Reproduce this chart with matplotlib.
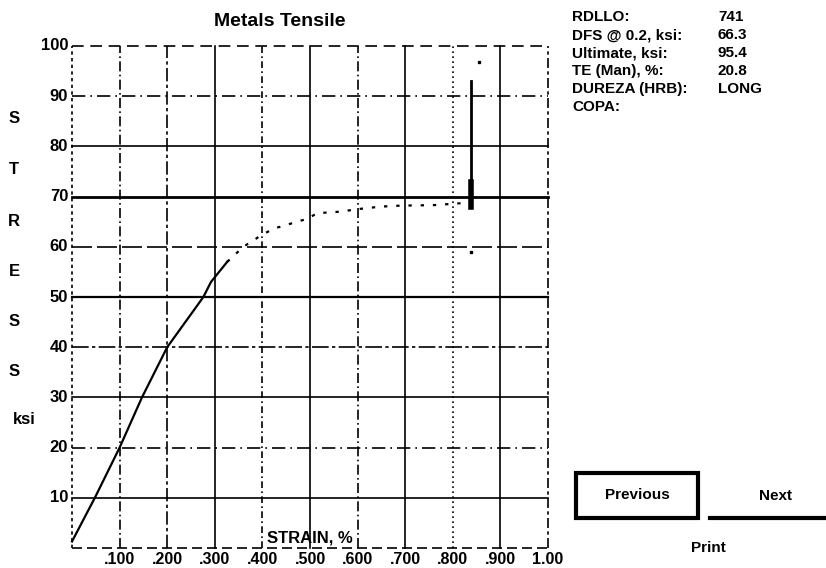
import numpy as np
import matplotlib
matplotlib.use("Agg")
from matplotlib import pyplot as plt
from matplotlib.patches import Rectangle

plt.rcParams['font.family'] = ['Liberation Sans', 'DejaVu Sans']
plt.rcParams['font.weight'] = 'bold'

# stress-strain readings
strain = [0.0, 0.048, 0.100, 0.147, 0.200, 0.276, 0.292, 0.326,
          0.360, 0.396, 0.423, 0.495, 0.515, 0.564, 0.600, 0.648,
          0.690, 0.760, 0.820]
stress = [1.3, 10.0, 20.0, 30.0, 40.0, 50.0, 53.0, 57.0,
          60.0, 62.2, 63.6, 65.6, 66.7, 67.0, 67.5, 68.0,
          68.2, 68.3, 68.7]
n_solid = 8  # first points drawn as a continuous line

break_strain = 0.838
break_low, break_high = 68.0, 93.0
break_thick = 73.0
extra_pts_x = [0.855, 0.838]
extra_pts_y = [96.8, 59.0]

xticks = [0.1, 0.2, 0.3, 0.4, 0.5, 0.6, 0.7, 0.8, 0.9, 1.0]
xtick_labels = ['.100', '.200', '.300', '.400', '.500', '.600', '.700', '.800', '.900', '1.00']
yticks = [10, 20, 30, 40, 50, 60, 70, 80, 90, 100]

info_labels = ['RDLLO:', 'DFS @ 0.2, ksi:', 'Ultimate, ksi:', 'TE (Man), %:', 'DUREZA (HRB):', 'COPA:']
info_values = ['741', '66.3', '95.4', '20.8', 'LONG', '']

W, H = 826, 568
fig = plt.figure(figsize=(W / 100, H / 100), dpi=100)

def fx(px):
    return px / W

def fy(py):
    return 1 - py / H

ax = fig.add_axes([fx(72), fy(548), fx(548) - fx(72), fy(46) - fy(548)])
ax.set_xlim(0, 1)
ax.set_ylim(0, 100)
for s in ax.spines.values():
    s.set_visible(False)
ax.set_xticks([])
ax.set_yticks([])

# grid lines, each with its own pen pattern
hstyles = {0: (0, (6, 3)), 10: '-', 20: (0, (8, 3, 1, 3)), 30: '-', 40: (0, (10, 2, 2, 2)),
           50: '-', 60: (0, (12, 3)), 70: '-', 80: '-', 90: (0, (8, 3, 1, 3)), 100: (0, (7, 4))}
hwidths = {70: 2.0, 50: 1.6}
for yv in [0] + yticks:
    ax.axhline(yv, color='black', lw=hwidths.get(yv, 1.2), ls=hstyles[yv], clip_on=False)
vstyles = [(0, (2, 2)), (0, (6, 2, 1, 2)), (0, (8, 2, 2, 2)), '-', (0, (4, 2, 1, 2)),
           '-', (0, (6, 2, 1, 2)), '-', (0, (1, 2)), '-', (0, (6, 2, 2, 2))]
for xv, st in zip([0.0] + xticks, vstyles):
    ax.axvline(xv, color='black', lw=1.2, ls=st, clip_on=False)

# the test curve
ax.plot(strain[:n_solid], stress[:n_solid], color='black', lw=1.6, clip_on=False)
ax.plot(strain[n_solid - 1:], stress[n_solid - 1:], color='black', lw=1.6,
        ls=(0, (1.5, 4)))
ax.plot([break_strain, break_strain], [break_low, break_high], color='black', lw=2)
ax.plot([break_strain, break_strain], [break_low, break_thick], color='black', lw=4)
ax.plot(extra_pts_x, extra_pts_y, 's', color='black', ms=2)

# axis labels and ticks
for xv, lab in zip(xticks, xtick_labels):
    ax.text(xv, -2.3, lab, ha='center', va='center', fontsize=11.5)
for yv in yticks:
    ax.text(-0.008, yv, str(yv), ha='right', va='center', fontsize=12)
ax.text(0.5, 0.5, 'STRAIN, %', ha='center', va='bottom', fontsize=12)

fig.text(fx(280), fy(22), 'Metals Tensile', ha='center', va='center', fontsize=14)
for ch, py in zip('STRESS', [118, 170, 222, 272, 322, 372]):
    fig.text(fx(14), fy(py), ch, ha='center', va='center', fontsize=12)
fig.text(fx(24), fy(420), 'ksi', ha='center', va='center', fontsize=12)

# test summary panel
for i, (lab, val) in enumerate(zip(info_labels, info_values)):
    yy = fy(17 + 18 * i)
    fig.text(fx(572), yy, lab, ha='left', va='center', fontsize=11)
    fig.text(fx(718), yy, val, ha='left', va='center', fontsize=11)

# buttons
fig.patches.append(Rectangle((fx(576), fy(518)), fx(698) - fx(576), fy(473) - fy(518),
                             transform=fig.transFigure, fill=False, lw=3, ec='black'))
fig.text(fx(637), fy(495), 'Previous', ha='center', va='center', fontsize=11)
fig.text(fx(775), fy(496), 'Next', ha='center', va='center', fontsize=11)
fig.add_artist(plt.Line2D([fx(710), fx(826)], [fy(518), fy(518)], color='black', lw=3))
fig.text(fx(708), fy(548), 'Print', ha='center', va='center', fontsize=11)

fig.savefig('out.png', dpi=100)
